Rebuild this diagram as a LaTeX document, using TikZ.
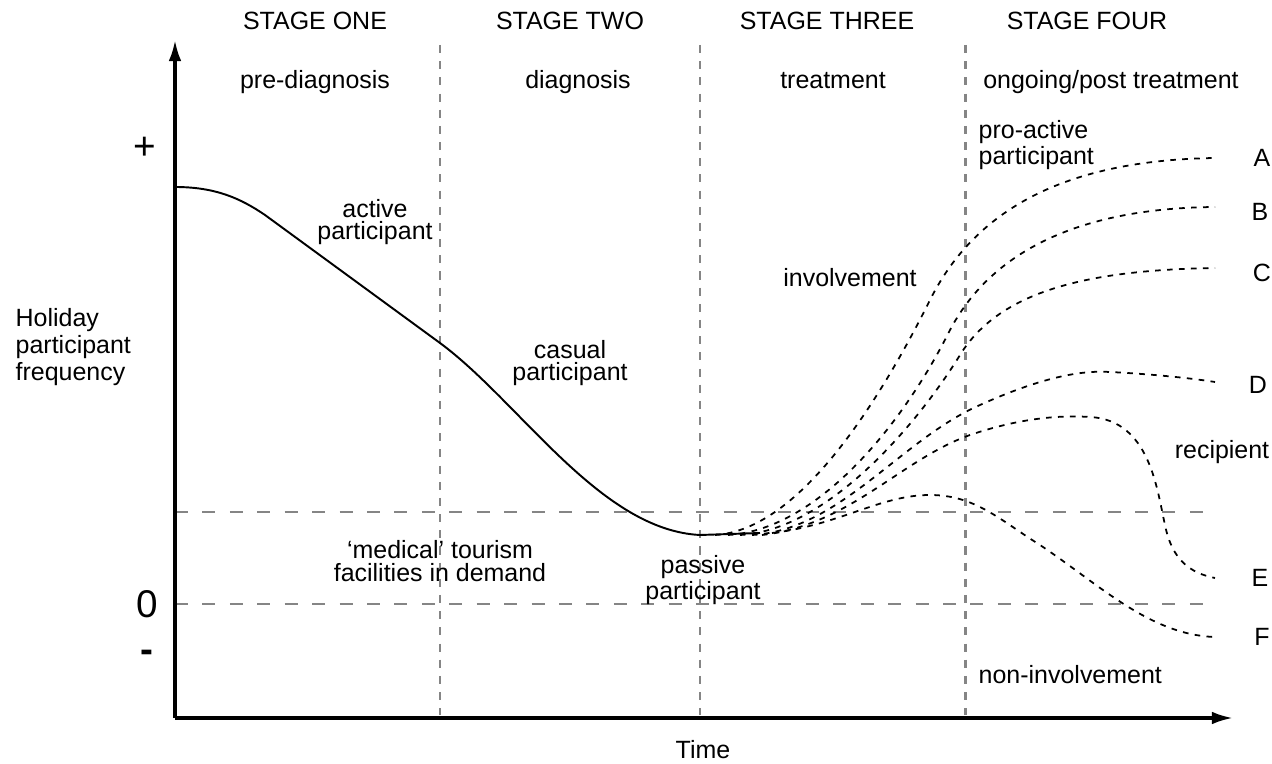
\documentclass[tikz,border=0pt]{standalone}
\usepackage{fontspec}
\setmainfont{Liberation Sans}
\usetikzlibrary{arrows.meta,positioning}
\definecolor{Guide}{HTML}{858585}

\begin{document}
\begin{tikzpicture}[x=0.01cm,y=-0.01cm,
    lbl/.style={font=\fontsize{7.1}{6.5}\selectfont,align=center,inner sep=0pt},
    sign/.style={font=\fontsize{11}{12}\selectfont,inner sep=0pt},
    axis/.style={line width=0.9pt,-{Latex[length=6pt,width=3.6pt]}},
    guide/.style={draw=Guide,line width=0.85pt,dash pattern=on 2.3pt off 2.3pt},
    level/.style={draw=Guide,line width=0.85pt,dash pattern=on 3.7pt off 4.1pt},
    course/.style={line width=0.55pt},
    route/.style={line width=0.5pt,dash pattern=on 1.6pt off 1.8pt}]
  \useasboundingbox (0,0) rectangle (1272,764);

  \coordinate (origin) at (175,718);
  \coordinate (ytip) at (175,40);
  \coordinate (xtip) at (1233,718);

  % stage columns
  \node[lbl,anchor=base] (one) at (315,30) {STAGE ONE};
  \node[lbl,anchor=base] (two) at (570,30) {STAGE TWO};
  \node[lbl,anchor=base] (three) at (827,30) {STAGE THREE};
  \node[lbl,anchor=base] (four) at (1087,30) {STAGE FOUR};
  \node[lbl,anchor=base] (prediag) at (315,89) {pre-diagnosis};
  \node[lbl,anchor=base] (diag) at (578,89) {diagnosis};
  \node[lbl,anchor=base] (treat) at (833,89) {treatment};
  \node[lbl,anchor=base] (post) at (1111,89) {ongoing/post treatment};

  \foreach \x in {440,700,965}
    \draw[guide] (\x,45) -- (\x,715);
  \foreach \y in {512,604}
    \draw[level] (175,\y) -- (1210,\y);

  % axes
  \draw[axis] (origin) -- (ytip);
  \draw[axis] (origin) -- (xtip);
  \node[sign] (plus) at (145,148) {+};
  \node[sign] (zero) at (147,604) {0};
  \node[sign,font=\fontsize{11}{12}\selectfont\bfseries] (minus) at (147,656) {-};
  \node[lbl,align=left,anchor=west] (freq) at (15,347) {Holiday\\participant\\frequency};
  \node[lbl] (time) at (703,750) {Time};

  % phase labels
  \node[lbl] (active) at (375,222) {active\\participant};
  \node[lbl] (casual) at (570,363) {casual\\participant};
  \node[lbl] (medical) at (440,561) {`medical' tourism\\facilities in demand};
  \node[lbl] (passive) at (703,580) {passive\\participant};
  \node[lbl] (involve) at (850,278) {involvement};
  \node[lbl,align=left,anchor=west] (proactive) at (978,145) {pro-active\\participant};
  \node[lbl] (recip) at (1222,452) {recipient};
  \node[lbl,anchor=west] (noninv) at (978,675) {non-involvement};

  \node[lbl] (A) at (1262,158) {A};
  \node[lbl] (B) at (1260,212) {B};
  \node[lbl] (C) at (1262,273) {C};
  \node[lbl] (D) at (1258,385) {D};
  \node[lbl] (E) at (1260,578) {E};
  \node[lbl] (F) at (1262,637) {F};

  % participation before treatment
  \draw[course] (175,187) .. controls (215,187) and (240,198) .. (265,215)
    -- (440,343) .. controls (520,402) and (600,530) .. (700,535) -- (760,533);

  % outcomes A to F
  \draw[route] (715,535) .. controls (800,530) and (880,400) .. (930,300)
    .. controls (980,200) and (1080,160) .. (1215,158);
  \draw[route] (728,535) .. controls (815,530) and (900,430) .. (950,330)
    .. controls (995,245) and (1090,208) .. (1215,207);
  \draw[route] (740,535) .. controls (830,530) and (920,420) .. (960,355)
    .. controls (1000,290) and (1090,270) .. (1215,268);
  \draw[route] (752,535) .. controls (840,530) and (900,440) .. (980,405)
    .. controls (1040,378) and (1080,370) .. (1110,372)
    .. controls (1150,374) and (1190,378) .. (1215,382);
  \draw[route] (762,535) .. controls (850,525) and (900,460) .. (970,435)
    .. controls (1020,418) and (1060,415) .. (1090,417)
    .. controls (1150,420) and (1157,490) .. (1165,525)
    .. controls (1172,560) and (1190,573) .. (1215,578);
  \draw[route] (772,533) .. controls (840,525) and (880,495) .. (930,495)
    .. controls (975,495) and (1000,520) .. (1040,545)
    .. controls (1100,585) and (1150,635) .. (1215,637);
\end{tikzpicture}
\end{document}
